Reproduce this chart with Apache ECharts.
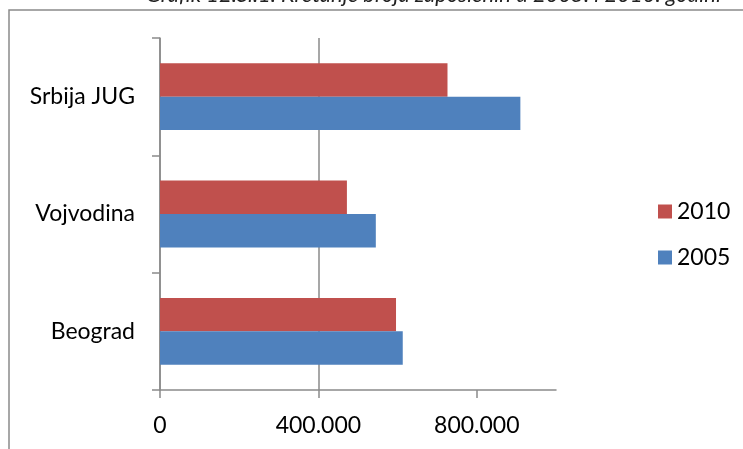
<!DOCTYPE html>
<html>
<head>
<meta charset="utf-8">
<script src="https://cdn.jsdelivr.net/npm/echarts@6/dist/echarts.min.js"></script>
<style>html,body{margin:0;padding:0;background:#fff}#c{width:743px;height:449px}</style>
</head>
<body>
<div id="c"></div>
<script>
var titleText = 'Grafik 12.Sl.1. Kretanje broja zaposlenih u 2005. i 2010. godini';
var categories = ['Beograd', 'Vojvodina', 'Srbija JUG'];
var seriesNames = ['2010', '2005'];
var values2010 = [596000, 472000, 726000];
var values2005 = [613000, 545000, 910000];
var tickValues = [0, 400000, 800000];

var FONT = 'Lato, "Open Sans", sans-serif';
var GRAY = '#8a8a8a';
function fmt(v) { return String(v).replace(/\B(?=(\d{3})+(?!\d))/g, '.'); }

var chart = echarts.init(document.getElementById('c'), null, {renderer: 'canvas'});
chart.setOption({
  animation: false,
  backgroundColor: '#fff',
  textStyle: {fontFamily: FONT},
  graphic: [
    {type: 'rect', shape: {x: 9, y: 10, width: 900, height: 600}, style: {fill: 'none', stroke: GRAY, lineWidth: 1.5}, z: 0},
    {type: 'text', x: 146, y: 6, style: {text: titleText, font: 'italic 22px ' + FONT, fill: '#222', textVerticalAlign: 'bottom'}, z: 10}
  ],
  grid: {left: 160, top: 38, right: 187, bottom: 59, containLabel: false},
  legend: {
    orient: 'vertical', left: 653, top: 195, itemWidth: 14, itemHeight: 14, itemGap: 23,
    icon: 'rect', data: seriesNames,
    textStyle: {fontSize: 23, color: '#000', fontFamily: FONT}
  },
  xAxis: {
    type: 'value', min: 0, max: 1000000, interval: 400000,
    axisLine: {show: true, lineStyle: {color: GRAY, width: 1.5}},
    axisTick: {show: true, length: 8, lineStyle: {color: GRAY, width: 1.5}, customValues: tickValues},
    splitLine: {show: true, showMaxLine: false, lineStyle: {color: GRAY, width: 1.5}},
    axisLabel: {margin: 24, fontSize: 23, color: '#000', fontFamily: FONT,
      formatter: function (v) { return v >= 1000000 ? '' : fmt(v); }}
  },
  yAxis: {
    type: 'category', data: categories,
    axisLine: {show: true, lineStyle: {color: GRAY, width: 1.5}},
    axisTick: {show: true, length: 8, lineStyle: {color: GRAY, width: 1.5}},
    axisLabel: {margin: 25, fontSize: 23, color: '#000', fontFamily: FONT},
    splitLine: {show: false}
  },
  series: [
    {name: seriesNames[0], type: 'bar', data: values2010, barGap: '0%', barCategoryGap: '43%',
      itemStyle: {color: '#c0504d'}},
    {name: seriesNames[1], type: 'bar', data: values2005, barGap: '0%', barCategoryGap: '43%',
      itemStyle: {color: '#4f81bd'}}
  ]
});
</script>
</body>
</html>
